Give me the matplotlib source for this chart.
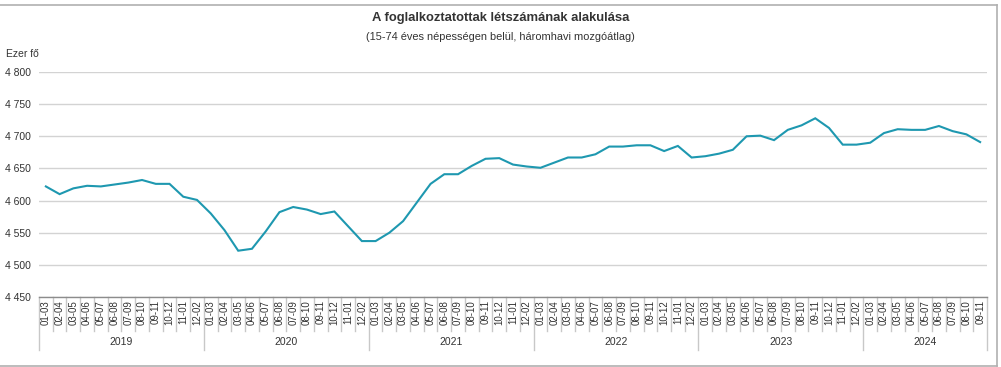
import matplotlib
matplotlib.use("Agg")
import matplotlib.pyplot as plt
from matplotlib.transforms import blended_transform_factory
from matplotlib.lines import Line2D

plt.rcParams['font.family'] = ['Liberation Sans', 'DejaVu Sans']

years = ["2019", "2020", "2021", "2022", "2023", "2024"]
periods = ["01-03", "02-04", "03-05", "04-06", "05-07", "06-08",
           "07-09", "08-10", "09-11", "10-12", "11-01", "12-02"]

v2019 = [4622, 4610, 4619, 4623, 4622, 4625, 4628, 4632, 4626, 4626, 4606, 4601]
v2020 = [4580, 4554, 4522, 4525, 4552, 4582, 4590, 4586, 4579, 4583, 4560, 4537]
v2021 = [4537, 4550, 4568, 4597, 4626, 4641, 4641, 4654, 4665, 4666, 4656, 4653]
v2022 = [4651, 4659, 4667, 4667, 4672, 4684, 4684, 4686, 4686, 4677, 4685, 4667]
v2023 = [4669, 4673, 4679, 4700, 4701, 4694, 4710, 4717, 4728, 4713, 4687, 4687]
v2024 = [4690, 4705, 4711, 4710, 4710, 4716, 4708, 4703, 4691]

yearly = [v2019, v2020, v2021, v2022, v2023, v2024]
values = [v for ys in yearly for v in ys]
labels = [periods[i] for ys in yearly for i in range(len(ys))]
yticks = [4450, 4500, 4550, 4600, 4650, 4700, 4750, 4800]

W, H = 1001, 367
fig = plt.figure(figsize=(W / 100, H / 100), dpi=100)
fig.patch.set_facecolor('white')

def fx(px):
    return px / W

def fy(py):
    return 1 - py / H

left, right, top, bottom = 39, 987, 72, 297
ax = fig.add_axes([fx(left), fy(bottom), fx(right - left), fy(top) - fy(bottom)])
n = len(values)
x = list(range(n))
ax.plot(x, values, color='#1e98b0', lw=1.5, solid_joinstyle='miter', zorder=3)
ax.set_xlim(-0.5, n - 0.5)
ax.set_ylim(4450, 4800)
ax.set_yticks(yticks)
ax.set_yticklabels([f"{t:,}".replace(",", " ") for t in yticks], fontsize=7.5, color='#333333')
ax.tick_params(axis='y', length=0, pad=6)
ax.set_xticks([])
ax.grid(axis='y', color='#d3d3d3', lw=1.0)
ax.set_axisbelow(True)
for s in ['top', 'right', 'left']:
    ax.spines[s].set_visible(False)
ax.spines['bottom'].set_color('#8c8c8c')
ax.spines['bottom'].set_linewidth(1.0)

tr = blended_transform_factory(ax.transData, fig.transFigure)
# category labels and separators
for i, lab in enumerate(labels):
    ax.text(i, fy(300), lab, rotation=90, ha='center', va='top', fontsize=7,
            color='#333333', transform=tr, clip_on=False)
for b in range(n + 1):
    xb = b - 0.5
    is_year = (b % 12 == 0) or b == n
    yend = fy(350) if is_year else fy(331)
    ax.add_line(Line2D([xb, xb], [fy(297), yend], transform=tr, color='#c8c8c8',
                       lw=1.0, clip_on=False))
# year labels
start = 0
for yr, ys in zip(years, yearly):
    mid = start + (len(ys) - 1) / 2
    ax.text(mid, fy(342), yr, ha='center', va='center', fontsize=7.5,
            color='#333333', transform=tr, clip_on=False)
    start += len(ys)

fig.text(0.5, fy(18), "A foglalkoztatottak létszámának alakulása", ha='center', va='center',
         fontsize=9.4, fontweight='bold', color='#333333')
fig.text(0.5, fy(37), "(15-74 éves népességen belül, háromhavi mozgóátlag)", ha='center',
         va='center', fontsize=7.9, color='#333333')
fig.text(fx(6), fy(54), "Ezer fő", ha='left', va='center', fontsize=7.5, color='#333333')

# outer frame
fc = '#b0b0b0'
fig.add_artist(Line2D([0, fx(997)], [fy(5), fy(5)], color=fc, lw=1.2, transform=fig.transFigure))
fig.add_artist(Line2D([fx(997), fx(997)], [fy(5), fy(366)], color=fc, lw=1.2, transform=fig.transFigure))
fig.add_artist(Line2D([0, fx(997)], [fy(366), fy(366)], color=fc, lw=1.2, transform=fig.transFigure))

fig.savefig("out.png", dpi=100, facecolor='white')
